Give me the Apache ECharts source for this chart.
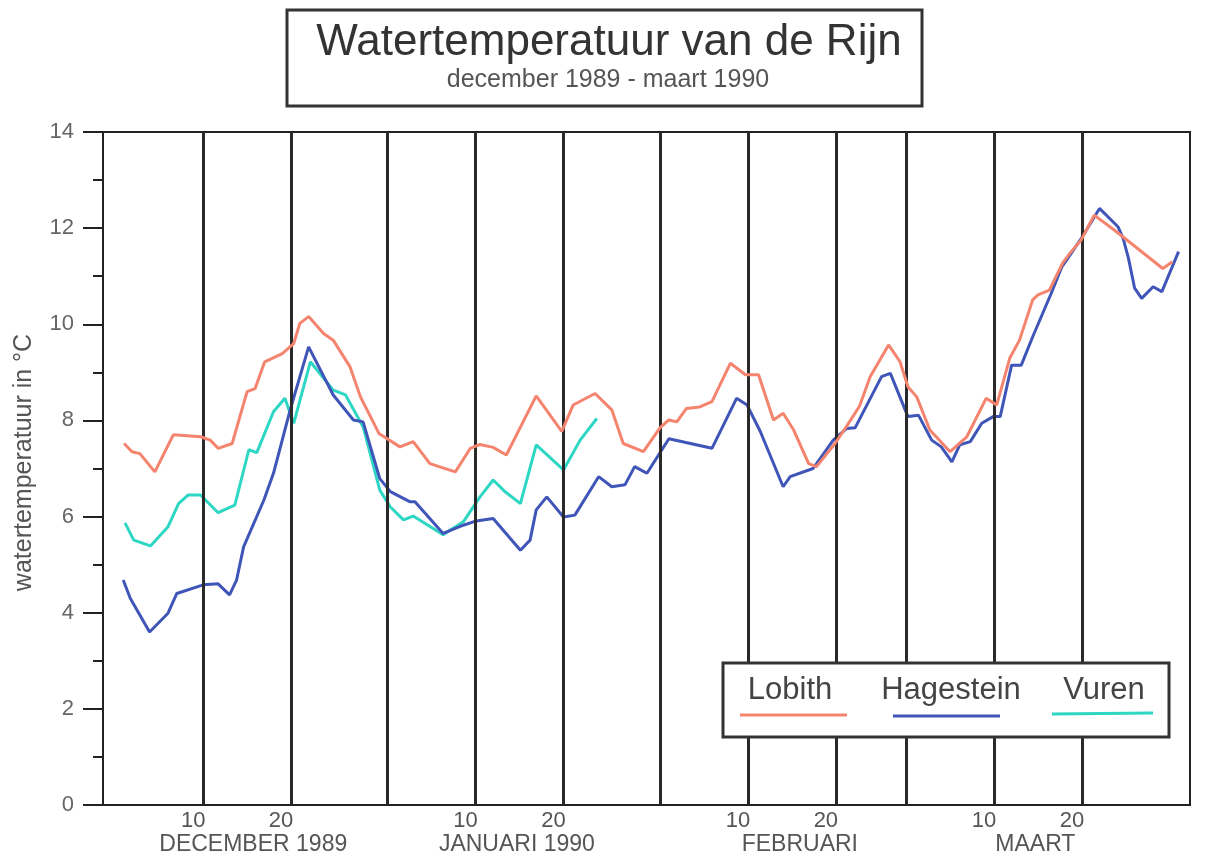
<!DOCTYPE html>
<html>
<head>
<meta charset="utf-8">
<script src="https://cdn.jsdelivr.net/npm/echarts@6/dist/echarts.min.js"></script>
<style>
  html, body { margin: 0; padding: 0; background: #fff; }
  #chart { width: 1214px; height: 858px; }
</style>
</head>
<body>
<div id="chart"></div>
<script>
// x = days since 30 Nov 1989 (1 = 1 Dec, 32 = 1 Jan, 63 = 1 Feb, 91 = 1 Mar)
var lobith = [
  [1.0, 7.52], [1.9, 7.35], [2.8, 7.31], [4.5, 6.93], [6.6, 7.70], [9.7, 7.66], [10.8, 7.59],
  [11.7, 7.42], [13.3, 7.52], [15.0, 8.60], [15.9, 8.66], [17.0, 9.22], [19.0, 9.39], [20.3, 9.60],
  [21.0, 10.02], [22.0, 10.16], [23.7, 9.81], [24.8, 9.67], [26.7, 9.12], [27.9, 8.49], [30.0, 7.73],
  [32.4, 7.45], [33.9, 7.56], [35.8, 7.10], [38.7, 6.93], [40.4, 7.42], [41.5, 7.50], [43.0, 7.44],
  [44.5, 7.28], [47.9, 8.51], [50.8, 7.77], [52.1, 8.32], [54.6, 8.56], [56.5, 8.22], [57.8, 7.52],
  [60.1, 7.35], [62.0, 7.85], [63.0, 8.01], [63.9, 7.97], [65.0, 8.25], [66.5, 8.28], [67.9, 8.39],
  [70.0, 9.19], [71.7, 8.95], [73.2, 8.95], [74.9, 8.01], [76.0, 8.15], [77.2, 7.80], [78.9, 7.10],
  [79.8, 7.04], [81.9, 7.52], [83.2, 7.87], [84.7, 8.30], [85.9, 8.91], [88.0, 9.57], [89.3, 9.22],
  [90.2, 8.70], [91.2, 8.49], [92.7, 7.80], [95.0, 7.35], [96.9, 7.66], [99.1, 8.46], [100.3, 8.32],
  [101.8, 9.30], [102.9, 9.67], [104.4, 10.51], [105.0, 10.61], [106.3, 10.71], [107.8, 11.27],
  [108.6, 11.47], [109.9, 11.75], [111.4, 12.27], [113.9, 11.93], [119.2, 11.16], [120.3, 11.30]
];
var hagestein = [
  [0.9, 4.68], [1.7, 4.30], [3.9, 3.60], [6.0, 3.99], [7.0, 4.40], [10.0, 4.58], [11.7, 4.60],
  [13.0, 4.37], [13.8, 4.68], [14.6, 5.37], [16.9, 6.34], [18.0, 6.90], [19.9, 8.22], [22.0, 9.53],
  [24.8, 8.53], [27.1, 8.01], [28.2, 7.97], [30.1, 6.79], [31.3, 6.52], [33.5, 6.31], [34.1, 6.31],
  [37.3, 5.65], [39.6, 5.82], [41.1, 5.91], [43.0, 5.96], [46.1, 5.30], [47.2, 5.51], [47.9, 6.14],
  [49.1, 6.41], [51.0, 5.99], [52.3, 6.03], [55.0, 6.83], [56.5, 6.62], [58.0, 6.66], [59.1, 7.04],
  [60.5, 6.90], [63.0, 7.62], [67.9, 7.42], [70.7, 8.46], [71.9, 8.32], [73.4, 7.77], [76.0, 6.62],
  [76.8, 6.83], [79.4, 7.00], [81.7, 7.59], [83.2, 7.83], [84.2, 7.85], [87.2, 8.91], [88.2, 8.98],
  [90.2, 8.08], [91.4, 8.11], [92.9, 7.59], [94.0, 7.45], [95.2, 7.14], [96.1, 7.49], [97.3, 7.56],
  [98.6, 7.94], [99.9, 8.08], [100.7, 8.08], [102.0, 9.15], [103.1, 9.15], [104.4, 9.74],
  [106.5, 10.64], [107.7, 11.19], [109.8, 11.75], [112.0, 12.41], [114.1, 12.03], [114.7, 11.78],
  [115.3, 11.37], [116.0, 10.75], [116.8, 10.54], [118.1, 10.78], [119.1, 10.68], [121.0, 11.51]
];
var vuren = [
  [1.1, 5.87], [2.1, 5.51], [4.0, 5.39], [6.0, 5.79], [7.2, 6.27], [8.3, 6.45], [9.7, 6.45],
  [11.7, 6.08], [13.6, 6.24], [15.2, 7.39], [16.1, 7.33], [18.0, 8.18], [19.3, 8.46], [20.3, 7.94],
  [22.2, 9.22], [24.8, 8.63], [26.2, 8.53], [28.2, 7.87], [30.1, 6.55], [31.3, 6.20], [32.8, 5.93],
  [33.9, 6.01], [37.3, 5.62], [39.6, 5.89], [41.5, 6.41], [43.0, 6.76], [44.4, 6.51], [46.1, 6.27],
  [47.9, 7.49], [51.0, 6.97], [52.9, 7.59], [54.8, 8.04]
];

// vertical grid lines: 10th, 20th and last day of each month
var gridDays = [10, 20, 31, 41, 51, 62, 72, 82, 90, 100, 110];
// day-of-month tick labels
var dayTicks = [10, 20, 41, 51, 72, 82, 100, 110];
var dayTickText = ['10', '20', '10', '20', '10', '20', '10', '20'];
// month names
var monthPos = [15.7, 45.7, 77.9, 104.7];
var monthNames = ['DECEMBER 1989', 'JANUARI 1990', 'FEBRUARI', 'MAART'];

var colors = { lobith: '#f5846f', hagestein: '#3f55b8', vuren: '#2ed6c4' };
var font = '"Liberation Sans", Arial, sans-serif';

var chart = echarts.init(document.getElementById('chart'));

var option = {
  backgroundColor: '#fff',
  animation: false,
  textStyle: { fontFamily: font },
  grid: {
    left: 103, right: 24, top: 132, bottom: 53,
    outerBoundsMode: 'none',
    show: true, borderColor: '#222', borderWidth: 2
  },
  xAxis: [{
    type: 'value',
    min: -1.4, max: 122.3,
    axisLine: { onZero: false, lineStyle: { color: '#222', width: 2 } },
    axisTick: { show: false },
    splitLine: { show: false },
    axisLabel: {
      customValues: dayTicks,
      formatter: function (v) { return dayTickText[dayTicks.indexOf(v)]; },
      color: '#555', fontSize: 22,
      margin: 5, padding: [0, 20, 0, 0]
    }
  }, {
    type: 'value',
    position: 'bottom',
    min: -1.4, max: 122.3,
    axisLine: { show: false, onZero: false },
    axisTick: { show: false },
    splitLine: { show: false },
    axisLabel: {
      customValues: monthPos,
      formatter: function (v) { return monthNames[monthPos.indexOf(v)]; },
      color: '#555', fontSize: 23,
      margin: 28
    }
  }],
  yAxis: {
    type: 'value',
    min: 0, max: 14, interval: 2,
    name: 'watertemperatuur in °C',
    nameLocation: 'middle',
    nameGap: 66,
    nameTextStyle: { color: '#555', fontSize: 25, padding: [0, 0, 0, 12] },
    axisLine: { show: true, onZero: false, lineStyle: { color: '#222', width: 2 } },
    axisTick: { show: true, length: 20, lineStyle: { color: '#222', width: 2 } },
    minorTick: { show: true, splitNumber: 2, length: 10, lineStyle: { color: '#222', width: 2 } },
    splitLine: { show: false },
    axisLabel: { color: '#666', fontSize: 22, margin: 29 }
  },
  series: [{
    name: 'grid',
    type: 'line',
    data: [],
    z: 1,
    markLine: {
      silent: true,
      symbol: ['none', 'none'],
      label: { show: false },
      lineStyle: { color: '#2a2a2a', width: 3, type: 'solid' },
      data: gridDays.map(function (d) { return { xAxis: d }; })
    }
  }, {
    name: 'Vuren',
    type: 'line',
    data: vuren,
    showSymbol: false,
    lineStyle: { color: colors.vuren, width: 3 },
    itemStyle: { color: colors.vuren },
    z: 3
  }, {
    name: 'Hagestein',
    type: 'line',
    data: hagestein,
    showSymbol: false,
    lineStyle: { color: colors.hagestein, width: 3 },
    itemStyle: { color: colors.hagestein },
    z: 4
  }, {
    name: 'Lobith',
    type: 'line',
    data: lobith,
    showSymbol: false,
    lineStyle: { color: colors.lobith, width: 3 },
    itemStyle: { color: colors.lobith },
    z: 5
  }],
  graphic: [
    // title box
    { type: 'rect', z: 100, shape: { x: 287, y: 10, width: 635, height: 96 },
      style: { fill: '#fff', stroke: '#333', lineWidth: 3 } },
    { type: 'text', z: 101, x: 609, y: 43,
      style: { text: 'Watertemperatuur van de Rijn', fill: '#333', fontSize: 44, fontFamily: font,
               align: 'center', verticalAlign: 'middle' } },
    { type: 'text', z: 101, x: 608, y: 80,
      style: { text: 'december 1989 - maart 1990', fill: '#555', fontSize: 25, fontFamily: font,
               align: 'center', verticalAlign: 'middle' } },
    // legend box
    { type: 'rect', z: 100, shape: { x: 723, y: 663, width: 446, height: 74 },
      style: { fill: '#fff', stroke: '#333', lineWidth: 3 } },
    { type: 'text', z: 101, x: 790, y: 690,
      style: { text: 'Lobith', fill: '#444', fontSize: 31, fontFamily: font,
               align: 'center', verticalAlign: 'middle' } },
    { type: 'text', z: 101, x: 951, y: 690,
      style: { text: 'Hagestein', fill: '#444', fontSize: 31, fontFamily: font,
               align: 'center', verticalAlign: 'middle' } },
    { type: 'text', z: 101, x: 1104, y: 690,
      style: { text: 'Vuren', fill: '#444', fontSize: 31, fontFamily: font,
               align: 'center', verticalAlign: 'middle' } },
    { type: 'line', z: 101, shape: { x1: 740, y1: 715, x2: 847, y2: 715 },
      style: { stroke: colors.lobith, lineWidth: 3 } },
    { type: 'line', z: 101, shape: { x1: 893, y1: 716, x2: 1000, y2: 716 },
      style: { stroke: colors.hagestein, lineWidth: 3 } },
    { type: 'line', z: 101, shape: { x1: 1052, y1: 714, x2: 1153, y2: 713 },
      style: { stroke: colors.vuren, lineWidth: 3 } }
  ]
};

chart.setOption(option);
</script>
</body>
</html>
